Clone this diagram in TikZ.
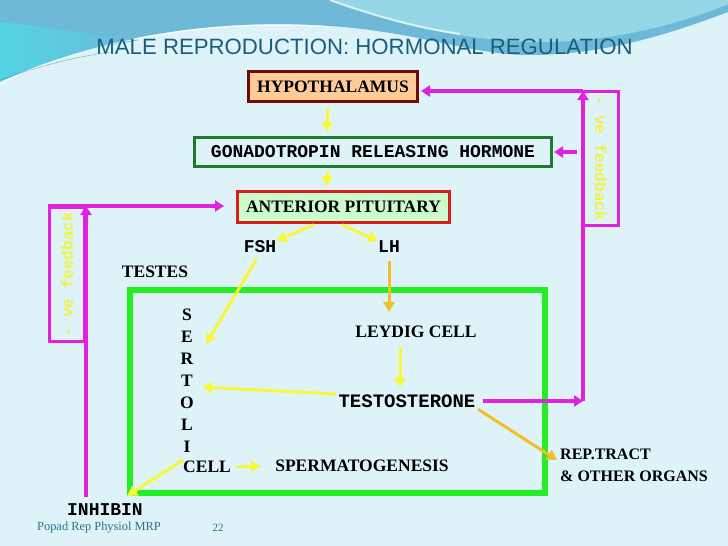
\documentclass[tikz,border=0pt]{standalone}
\usepackage{fontspec}
\setmainfont{Liberation Serif}
\setsansfont{Liberation Sans}
\setmonofont{Liberation Mono}
\usetikzlibrary{arrows.meta,calc}
\definecolor{slidebg}{HTML}{DDF3F8}
\definecolor{swoopblue}{HTML}{6DB9D7}
\definecolor{swoopcyan}{HTML}{52D4E4}
\definecolor{swooplight}{HTML}{95D7E7}
\definecolor{titleteal}{HTML}{1B5E7B}
\definecolor{footteal}{HTML}{2F6F8F}
\definecolor{hypfill}{HTML}{FFCC99}
\definecolor{hypline}{HTML}{6E0A0A}
\definecolor{gnrhline}{HTML}{1E7B2E}
\definecolor{apfill}{HTML}{CCFCCC}
\definecolor{apline}{HTML}{D91E1E}
\definecolor{testesgreen}{HTML}{22EE22}
\definecolor{signalyellow}{HTML}{F8F83A}
\definecolor{signalorange}{HTML}{F2BE2C}
\definecolor{loopmagenta}{HTML}{E022E0}
\definecolor{loopyellow}{HTML}{F4F044}

\begin{document}
\begin{tikzpicture}[x=1pt, y=-1pt,
    every node/.style={inner sep=0pt},
    serifbold/.style={font=\fontsize{17.5}{20}\selectfont\bfseries},
    monobold/.style={font=\fontsize{18}{20}\selectfont\ttfamily\bfseries},
    organbox/.style={draw, line width=3pt, serifbold},
    yarrow/.style={signalyellow, line width=3pt, -{Triangle[length=10pt,width=11pt]}},
    oarrow/.style={signalorange, line width=3pt, -{Triangle[length=10pt,width=11pt]}},
    fbarrow/.style={loopmagenta, line width=3.5pt, -{Triangle[length=9pt,width=11pt]}},
    fbbox/.style={draw=loopmagenta, line width=3.5pt, minimum width=134pt, minimum height=35pt,
        text=loopyellow, font=\fontsize{16}{18}\selectfont\ttfamily\bfseries},
]
\useasboundingbox (0,0) rectangle (728,546);

% slide background and swoosh
\fill[slidebg] (0,0) rectangle (728,546);
\fill[swoopblue] (0,0) -- (0,82) .. controls (100,35) and (220,18) .. (330,26)
    .. controls (420,32) and (470,55) .. (530,55) .. controls (610,55) and (680,30) .. (728,12) -- (728,0) -- cycle;
\shade[left color=swoopcyan, right color=swoopblue] (0,22) .. controls (60,28) and (100,36) .. (140,40)
    .. controls (90,48) and (40,62) .. (0,82) -- cycle;
\fill[swooplight] (330,0) .. controls (400,25) and (470,42) .. (540,42) .. controls (620,42) and (690,20) .. (728,4) -- (728,0) -- cycle;
\draw[white, line width=2pt, opacity=.7] (330,0) .. controls (380,18) and (420,28) .. (460,34);
\draw[white, line width=1pt, opacity=.8] (0,83) .. controls (100,36) and (220,19) .. (330,27);
\draw[titleteal, line width=.4pt, opacity=.5] (0,80) .. controls (40,66) and (70,58) .. (110,52);

% title and footer
\node[font=\fontsize{22.2}{25}\selectfont\sffamily, text=titleteal] (title) at (364.5,47) {MALE REPRODUCTION: HORMONAL REGULATION};
\node[font=\fontsize{12.4}{14}\selectfont, text=footteal, anchor=west] (credit) at (37,528) {Popad Rep Physiol MRP};
\node[font=\fontsize{11}{13}\selectfont, text=footteal] (pageno) at (218,528) {22};

% hypothalamus - pituitary axis
\node[organbox, draw=hypline, fill=hypfill, minimum width=169pt, minimum height=30pt] (hyp) at (333,86.5) {HYPOTHALAMUS};
\node[organbox, draw=gnrhline, fill=slidebg, monobold, minimum width=357pt, minimum height=29pt] (gnrh) at (373,152) {GONADOTROPIN RELEASING HORMONE};
\node[organbox, draw=apline, fill=apfill, minimum width=212pt, minimum height=31pt] (ap) at (343.5,207) {ANTERIOR PITUITARY};
\node[monobold] (fsh) at (260,247) {FSH};
\node[monobold] (lh) at (389,247) {LH};

% testes
\node[serifbold] (testes) at (155,272) {TESTES};
\node[draw=testesgreen, line width=6pt, minimum width=415pt, minimum height=203pt] (tbox) at (337.5,391.5) {};
\foreach \l [count=\i] in {S,E,R,T,O,L,I}
    \node[serifbold] (s\i) at (187,293+22*\i) {\l};
\node[serifbold, anchor=west] (cell) at (183,467) {CELL};
\node[serifbold] (leydig) at (416,332) {LEYDIG CELL};
\node[monobold, font=\fontsize{19}{20}\selectfont\ttfamily\bfseries] (testo) at (407,401) {TESTOSTERONE};
\node[serifbold] (sperm) at (362,466) {SPERMATOGENESIS};
\node[serifbold, font=\fontsize{16}{22}\selectfont\bfseries, align=left, anchor=west] (rep) at (560,465) {REP.TRACT\\\& OTHER ORGANS};
\node[monobold] (inhibin) at (105,510) {INHIBIN};

% feedback boxes
\node[fbbox, rotate=-90] (fbright) at (601,158.5) {- ve feedback};
\node[fbbox, rotate=90] (fbleft) at (67,274.5) {- ve feedback};
\coordinate (rcorner) at (583,401);
\coordinate (rtop) at (583,91);
\coordinate (rgn) at (577,152);
\coordinate (ltop) at (86,206);
\coordinate (lleft) at (48,206);

% stimulatory arrows
\draw[yarrow, shorten <=5pt, shorten >=4pt] ($(hyp.south)+(-6,0)$) -- ($(hyp.south |- gnrh.north)+(-6,0)$);
\draw[yarrow, shorten <=3pt, shorten >=4pt] ($(gnrh.south -| hyp.south)+(-6,0)$) -- ($(ap.north -| hyp.south)+(-6,0)$);
\draw[yarrow, shorten <=2pt] ($(ap.south)+(-28,0)$) -- (fsh.north east);
\draw[yarrow, shorten <=2pt] ($(ap.south)+(-3,0)$) -- (lh.north west);
\draw[yarrow, shorten <=7pt] (fsh.south) -- ($(s2.east)+(13,7)$);
\draw[oarrow, shorten <=8pt, shorten >=14pt] (lh.south) -- (lh.south |- leydig.north);
\draw[yarrow, shorten <=9pt, shorten >=7pt] ($(leydig.south)+(-16,0)$) -- ($(leydig.south |- testo.north)+(-16,0)$);
\draw[yarrow] ($(testo.west)+(-2,-7)$) -- ($(s4.east)+(9,6)$);
\draw[oarrow, shorten <=3pt] (testo.south east) -- ($(rep.west)+(-3,-5)$);
\draw[yarrow, shorten <=6pt, shorten >=14pt] (cell.east) -- (sperm.west);
\draw[yarrow] ($(cell.west)+(0,-7)$) -- (tbox.south west);

% negative feedback loops
\draw[fbarrow, shorten <=7pt] (testo.east) -- (rcorner);
\draw[fbarrow] (rcorner) -- (rtop);
\draw[fbarrow, shorten >=2pt] (rtop) -- (rtop -| hyp.east);
\draw[fbarrow, shorten >=1pt] (rgn) -- (rgn -| gnrh.east);
\draw[fbarrow, shorten <=7pt] (inhibin.north -| ltop) -- (ltop);
\draw[fbarrow, shorten >=12pt] (lleft) -- (lleft -| ap.west);

\end{tikzpicture}
\end{document}
